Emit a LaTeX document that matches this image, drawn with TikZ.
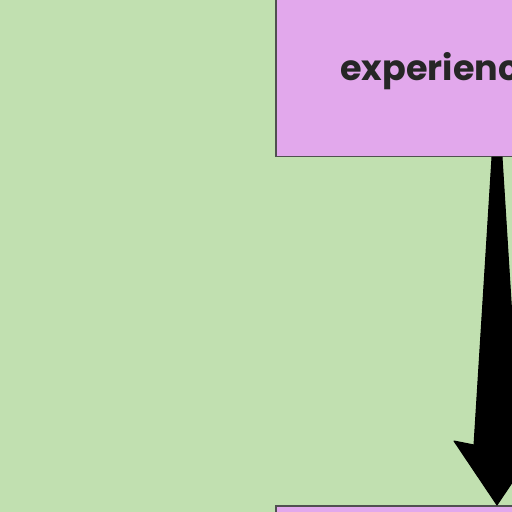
\documentclass[tikz,border=0pt]{standalone}
\usepackage{fontspec}
\setmainfont{Poppins}
\usetikzlibrary{calc}

\definecolor{bggreen}{HTML}{C1E0B0}
\definecolor{boxpurple}{HTML}{E2A8EC}
\definecolor{boxline}{HTML}{505050}

\tikzset{
    stepbox/.style={rectangle, draw=boxline, line width=1.5pt, fill=boxpurple,
        minimum width=330pt, minimum height=170pt, inner sep=0pt,
        font=\fontsize{35}{40}\selectfont\bfseries, text=black!85},
}

\begin{document}
\begin{tikzpicture}[x=1pt, y=-1pt]
    \useasboundingbox (0,0) rectangle (512,512);
    \fill[bggreen] (0,0) rectangle (512,512);

    % Boxes
    \node (experience) [stepbox, anchor=south west] at (275,157) {experience};
    \node (nextstep) [stepbox, anchor=north west] at (275,505) {};

    % Tapered arrow between them
    \path (experience.south west) ++(222,0) coordinate (top);
    \path (nextstep.north west) ++(222,0) coordinate (tip);
    \filldraw[black, line join=round, line width=1pt]
        ($(top)+(-5,0)$) -- ($(tip)+(-23,-60)$) -- ($(tip)+(-43,-64)$) -- (tip)
        -- ($(tip)+(43,-64)$) -- ($(tip)+(23,-60)$) -- ($(top)+(5,0)$) -- cycle;
\end{tikzpicture}
\end{document}
